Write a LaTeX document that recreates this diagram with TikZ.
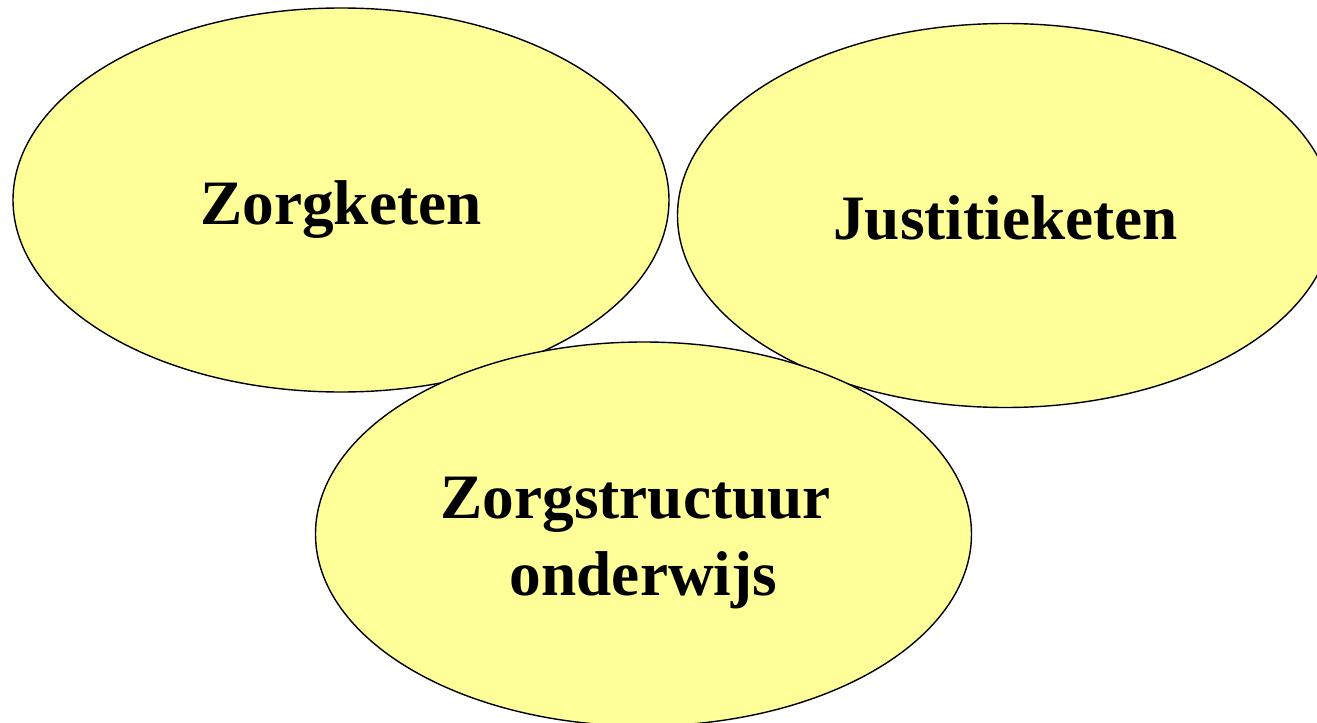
\documentclass[tikz,border=0pt]{standalone}
\usepackage{fontspec}
\setmainfont{Liberation Serif}
\usetikzlibrary{shapes.geometric}
\definecolor{r255g255b153}{rgb}{1.000000,1.000000,0.600000}%
\tikzset{
  ketenblob/.style={ellipse, draw=black, line width=0.8pt, fill=r255g255b153,
    inner sep=0pt, minimum width=13.12cm, minimum height=7.68cm},
  ketentext/.style={anchor=base, inner sep=0pt, align=center,
    font=\fontsize{36}{43.7}\selectfont\bfseries}
}
\begin{document}
\begin{tikzpicture}
% \clip (0,0) rectangle (26.340000,-14.460000);
\useasboundingbox (0.000000,0.000000) rectangle (26.340000,-14.460000);

% Drawing ellipse Zorgketen
\node [ketenblob] (zorg) at (6.820000,-4.000000) {};%
\node [ketentext] (zorgtxt) at ([yshift=-0.48cm]zorg.center) {Zorgketen};%

% Drawing ellipse Justitieketen
\node [ketenblob] (justitie) at (20.110000,-4.310000) {};%
\node [ketentext] (justitietxt) at ([yshift=-0.47cm]justitie.center) {Justitieketen};%

% Drawing ellipse Zorgstructuur onderwijs (on top of the other two)
% base of a two line node is the last line
\node [ketenblob] (onderwijs) at (12.870000,-10.680000) {};%
\node [ketentext] (onderwijstxt) at ([yshift=-1.22cm]onderwijs.center) {Zorgstructuur\hspace*{0.25em}\\onderwijs};%

\end{tikzpicture}
\end{document}
